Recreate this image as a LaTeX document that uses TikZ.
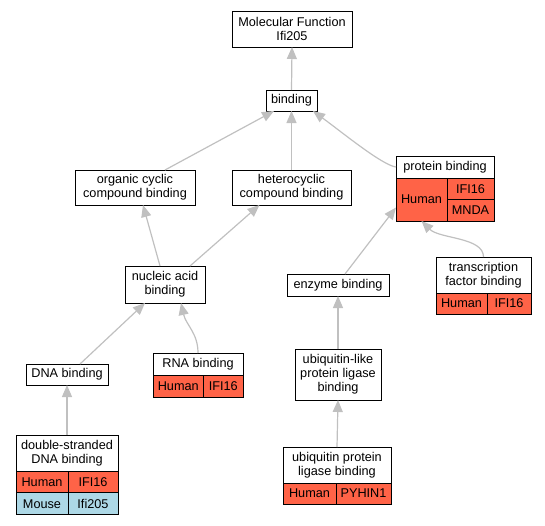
\documentclass[tikz,border=0pt]{standalone}
\usepackage{fontspec}
\setmainfont{Liberation Sans}
\usepackage{xcolor}
\usepackage{tikz}
\usetikzlibrary{arrows.meta}

\definecolor{edgegray}{RGB}{192,192,192}
\definecolor{human}{RGB}{255,99,71}
\definecolor{mouse}{RGB}{173,216,230}

\tikzset{
    term/.style={draw, fill=white, line width=1pt, inner sep=0pt, outer sep=0pt, align=center,
        font=\fontsize{12.7}{13.8}\selectfont},
    cell/.style={term, fill=human},
    mcell/.style={term, fill=mouse},
    edge/.style={draw=edgegray, line width=1.2pt, -{Triangle[width=10pt,length=12pt,fill=edgegray]}}
}

\begin{document}
\begin{tikzpicture}[x=1pt, y=-1pt]
    \useasboundingbox (0,0) rectangle (545,525);

    % terms
    \node[term, minimum width=120, minimum height=36] (mf) at (292,29) {Molecular Function\\Ifi205};
    \node[term, minimum width=51, minimum height=21] (bind) at (291.5,100.5) {binding};
    \node[term, minimum width=120, minimum height=35] (org) at (135,187.5) {organic cyclic\\compound binding};
    \node[term, minimum width=119, minimum height=35] (het) at (291.5,187.5) {heterocyclic\\compound binding};
    \node[term, minimum width=80, minimum height=37] (nuc) at (165,284.5) {nucleic acid\\binding};
    \node[term, minimum width=102, minimum height=22] (enz) at (338,285) {enzyme binding};
    \node[term, minimum width=82, minimum height=21] (dna) at (67,374.5) {DNA binding};
    \node[term, minimum width=86, minimum height=51] (ubl) at (338,374.5) {ubiquitin-like\\protein ligase\\binding};

    % protein binding
    \node[term, minimum width=98, minimum height=22] (pbh) at (445,167) {protein binding};
    \node[cell, minimum width=51, minimum height=43] (pbhum) at (421.5,199.5) {Human};
    \node[cell, minimum width=47, minimum height=21.5] (pbifi) at (470.5,188.75) {IFI16};
    \node[cell, minimum width=47, minimum height=21.5] (pbmnda) at (470.5,210.25) {MNDA};

    % transcription factor binding
    \node[term, minimum width=95, minimum height=36] (tfh) at (483.5,275) {transcription\\factor binding};
    \node[cell, minimum width=51, minimum height=21] (tfhum) at (461.5,303.5) {Human};
    \node[cell, minimum width=44, minimum height=21] (tfifi) at (509,303.5) {IFI16};

    % RNA binding
    \node[term, minimum width=90, minimum height=22] (rnah) at (198,364) {RNA binding};
    \node[cell, minimum width=50.5, minimum height=22] (rnahum) at (178.25,386) {Human};
    \node[cell, minimum width=39.5, minimum height=22] (rnaifi) at (223.25,386) {IFI16};

    % double-stranded DNA binding
    \node[term, minimum width=102, minimum height=37] (dsh) at (67,453.5) {double-stranded\\DNA binding};
    \node[cell, minimum width=52, minimum height=21] (dshum) at (42,482.25) {Human};
    \node[cell, minimum width=50, minimum height=21] (dsifi) at (93,482.25) {IFI16};
    \node[mcell, minimum width=52, minimum height=22] (dsmou) at (42,503.85) {Mouse};
    \node[mcell, minimum width=50, minimum height=22] (dsifim) at (93,503.85) {Ifi205};

    % ubiquitin protein ligase binding
    \node[term, minimum width=108, minimum height=36] (ubh) at (337,465) {ubiquitin protein\\ligase binding};
    \node[cell, minimum width=53, minimum height=21] (ubhum) at (309.5,493.5) {Human};
    \node[cell, minimum width=55, minimum height=21] (ubpyh) at (363.5,493.5) {PYHIN1};

    % is-a edges
    \draw[edge] (bind.north) -- (mf.south);
    \draw[edge] ([xshift=30pt]org.north) -- ([xshift=8pt]bind.south west);
    \draw[edge] (het.north) -- (bind.south);
    \draw[edge] (pbh.west) .. controls +(-14,-2) and +(30,22) .. ([xshift=-4pt]bind.south east);
    \draw[edge] ([xshift=-5pt]nuc.north) -- ([xshift=8pt]org.south);
    \draw[edge] ([xshift=25pt]nuc.north) -- ([xshift=-32pt]het.south);
    \draw[edge] ([xshift=7pt]enz.north) -- ([yshift=-8pt]pbhum.west);
    \draw[edge] (tfh.north) .. controls +(0,-20) and +(18,18) .. (pbhum.south);
    \draw[edge] ([xshift=13pt]dna.north) -- ([xshift=-20pt]nuc.south);
    \draw[edge] (rnah.north) .. controls +(0,-20) and +(5,22) .. ([xshift=16pt]nuc.south);
    \draw[edge] (ubl.north) -- (enz.south);
    \draw[edge] (ubh.north) -- (ubl.south);
    \draw[edge] (dsh.north) -- (dna.south);
\end{tikzpicture}
\end{document}
